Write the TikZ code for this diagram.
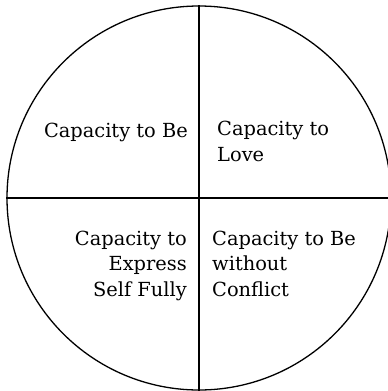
\documentclass[tikz,border=0pt]{standalone}
\usepackage{fontspec}
\setmainfont{DejaVu Serif}
\begin{document}
\begin{tikzpicture}[x=1pt,y=-1pt,
  lbl/.style={inner sep=0pt, font=\fontsize{19.4}{25.5}\selectfont},
  ring/.style={circle, draw, line width=1.3pt, minimum size=384pt, inner sep=0pt},
  divider/.style={line width=1.6pt}]
\useasboundingbox (0,0) rectangle (388,391);
\node[ring] (c) at (199,198) {};
\draw[divider] (c.north) -- (c.south);
\draw[divider] (c.west) -- (c.east);
\node[lbl, anchor=base east] (be) at (188,137) {Capacity to Be};
\node[lbl, anchor=base west, align=left] (love) at (217,161) {Capacity to\\Love};
\node[lbl, anchor=base east, align=right] (express) at (187,296) {Capacity to\\Express\\Self Fully};
\node[lbl, anchor=base west, align=left] (conflict) at (212,296) {Capacity to Be\\without\\Conflict};
\end{tikzpicture}
\end{document}
